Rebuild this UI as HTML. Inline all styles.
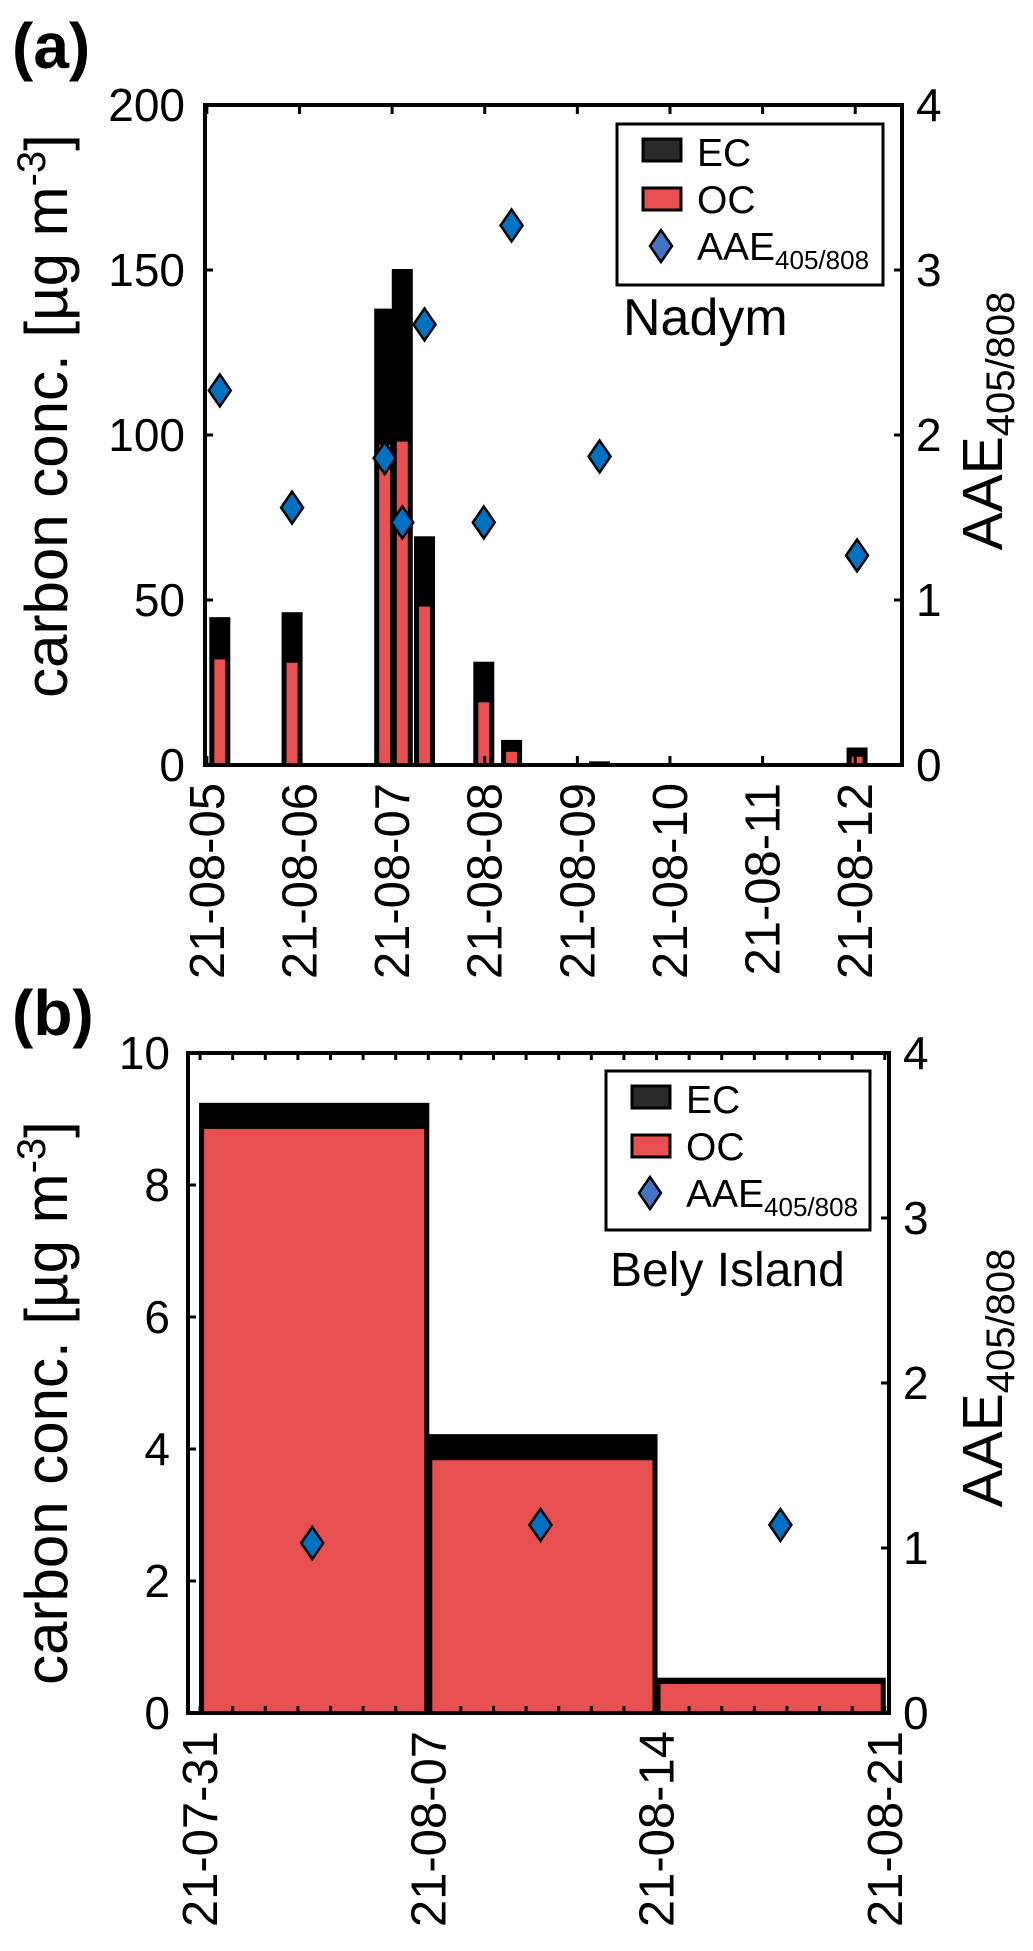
<!DOCTYPE html>
<html><head><meta charset="utf-8"><style>
html,body{margin:0;padding:0;background:#fff;}
svg{display:block;font-family:"Liberation Sans",Arial,sans-serif;}
</style></head><body>
<svg id="fig" width="1033" height="1951" viewBox="0 0 1033 1951" xmlns="http://www.w3.org/2000/svg"></svg>
<script>
// ---------- Panel (a) data: Nadym ----------
const dayLabelsA = ["21-08-05","21-08-06","21-08-07","21-08-08","21-08-09","21-08-10","21-08-11","21-08-12"];
const sampleDayA = [0.14, 0.92, 1.92, 2.11, 2.35, 2.99, 3.29, 4.24, 7.02];   // days after 21-08-05
const ocA = [32, 31, 97, 98, 48, 19, 4, 0.3, 2.5];
const ecA = [12.5, 15, 41, 52, 21, 12, 3.3, 0.5, 2.5];
const aaeA = [2.27, 1.56, 1.86, 1.47, 2.67, 1.47, 3.27, 1.87, 1.27];
const leftTicksA = [0, 50, 100, 150, 200];
const rightTicks = [0, 1, 2, 3, 4];

// ---------- Panel (b) data: Bely Island ----------
const dayLabelsB = ["21-07-31","21-08-07","21-08-14","21-08-21"];
const binStartB = [0, 7, 14];      // days after 21-07-31
const binEndB = [7, 14, 21];
const ocB = [8.85, 3.83, 0.44];
const ecB = [0.38, 0.38, 0.08];
const aaeDayB = [3.44, 10.44, 17.8];
const aaeB = [1.03, 1.14, 1.14];
const leftTicksB = [0, 2, 4, 6, 8, 10];

const NS = "http://www.w3.org/2000/svg";
const svg = document.getElementById("fig");
function mk(tag, attrs, parent) {
  const e = document.createElementNS(NS, tag);
  for (const k in attrs) e.setAttribute(k, attrs[k]);
  (parent || svg).appendChild(e);
  return e;
}
const RED = "#E84F50", BLUE = "#0070C0";

function diamond(cx, cy, fill, parent) {
  return mk("polygon", {points: `${cx},${cy-16} ${cx+11},${cy} ${cx},${cy+16} ${cx-11},${cy}`, fill: fill, stroke: "#000", "stroke-width": 2.5}, parent);
}

function panel(cfg) {
  const g = mk("g", {});
  
  
  const {L, R, T, B} = cfg;
  const x = d => L + (d - cfg.d0) / (cfg.d1 - cfg.d0) * (R - L);
  const yl = v => B - v / cfg.ymax * (B - T);
  const yr = v => B - v / 4 * (B - T);

  // bars
  const bars = mk("g", {}, g);
  
  
  cfg.drawBars(bars, x, yl);

  // diamonds
  const pts = mk("g", {}, g);
  
  
  cfg.aaeDays.forEach((d, i) => {
    const p = diamond(x(d), yr(cfg.aaeVals[i]), BLUE, pts);
    
    
  });

  // frame
  const fr = mk("rect", {x: L, y: T, width: R - L, height: B - T, fill: "none", stroke: "#000", "stroke-width": 4}, g);
  
  

  // left ticks
  cfg.leftTicks.forEach(v => {
    mk("line", {x1: L, x2: L + 8, y1: yl(v), y2: yl(v), stroke: "#000", "stroke-width": 3}, g);
    const t = mk("text", {x: cfg.leftLabelX, y: yl(v) + 16, "text-anchor": "end", "font-size": 46}, g);
    t.textContent = v;
    
    
  });
  // right ticks
  rightTicks.forEach(v => {
    mk("line", {x1: R - 8, x2: R, y1: yr(v), y2: yr(v), stroke: "#000", "stroke-width": 3}, g);
    const t = mk("text", {x: R + 14, y: yr(v) + 16, "font-size": 46}, g);
    t.textContent = v;
    
    
  });
  // minor x ticks
  for (let d = Math.ceil(cfg.d0); d <= cfg.d1; d += cfg.minorStep) {
    mk("line", {x1: x(d), x2: x(d), y1: B, y2: B - cfg.tickLen, stroke: "#000", "stroke-width": 3}, g);
    mk("line", {x1: x(d), x2: x(d), y1: T, y2: T + cfg.tickLen, stroke: "#000", "stroke-width": 3}, g);
  }
  // x labels
  cfg.xLabels.forEach((lab, i) => {
    const xx = x(i * cfg.labelStep) + 17;
    const t = mk("text", {x: xx, y: B + 18, "text-anchor": "end", "font-size": 49, transform: `rotate(-90 ${xx} ${B + 18})`}, g);
    t.textContent = lab;
    
    
  });

  // y title left
  const yt = mk("text", {x: 67, y: cfg.titleY, "text-anchor": "middle", "font-size": 60, transform: `rotate(-90 67 ${cfg.titleY})`}, g);
  
  
  yt.appendChild(document.createTextNode("carbon conc. [µg m"));
  const sup = mk("tspan", {"font-size": 40, dy: -22}, yt); sup.textContent = "-3";
  const cl = mk("tspan", {dy: 22}, yt); cl.textContent = "]";

  // y title right
  const rt = mk("text", {x: 1002, y: cfg.rtitleY, "text-anchor": "middle", "font-size": 57, transform: `rotate(-90 1002 ${cfg.rtitleY})`}, g);
  
  
  rt.appendChild(document.createTextNode("AAE"));
  const sb = mk("tspan", {"font-size": 40, dy: 12}, rt); sb.textContent = "405/808";

  // legend
  const lg = mk("g", {}, g);
  
  
  const Lx = cfg.leg.x, Ly = cfg.leg.y;
  mk("rect", {x: Lx, y: Ly, width: cfg.leg.w, height: cfg.leg.h, fill: "#fff", stroke: "#000", "stroke-width": 3}, lg);
  const e1 = mk("rect", {x: Lx + 26, y: Ly + 15, width: 38, height: 22, fill: "#2a2a2a", stroke: "#000", "stroke-width": 3}, lg);
   
  const e2 = mk("rect", {x: Lx + 26, y: Ly + 64, width: 38, height: 22, fill: RED, stroke: "#000", "stroke-width": 3}, lg);
   
  const e3 = diamond(Lx + 44, Ly + 122, "#4472C4", lg);
   
  const t1 = mk("text", {x: Lx + 80, y: Ly + 42, "font-size": 39}, lg); t1.textContent = "EC";
   
  const t2 = mk("text", {x: Lx + 80, y: Ly + 89, "font-size": 39}, lg); t2.textContent = "OC";
   
  const t3 = mk("text", {x: Lx + 80, y: Ly + 136, "font-size": 39}, lg);
   
  t3.appendChild(document.createTextNode("AAE"));
  const s3 = mk("tspan", {"font-size": 26, dy: 9}, t3); s3.textContent = "405/808";

  // site label
  const st = mk("text", {x: cfg.site.x, y: cfg.site.y, "font-size": cfg.site.fs}, g);
  st.textContent = cfg.site.text;
  
  

  // panel letter
  const pl = mk("text", {x: cfg.letter.x, y: cfg.letter.y, "font-size": 64, "font-weight": "bold"}, g);
  pl.textContent = cfg.letter.text;
  
  
}

// Panel (a)
panel({
  name: "panel-a-nadym", L: 205, R: 902, T: 105, B: 765, d0: -0.02, d1: 7.505, ymax: 200,
  leftTicks: leftTicksA, leftLabelX: 185, minorStep: 1, tickLen: 9, labelStep: 1,
  xLabels: dayLabelsA, aaeDays: sampleDayA, aaeVals: aaeA, titleY: 416, rtitleY: 421,
  leg: {x: 617, y: 124, w: 266, h: 161}, site: {x: 623, y: 335, fs: 52, text: "Nadym"},
  letter: {x: 12, y: 68, text: "(a)"},
  drawBars: (g, x, y) => {
    const w = 19;
    sampleDayA.forEach((d, i) => {
      const cx = x(d);
      const tot = mk("rect", {x: cx - w / 2, y: y(ocA[i] + ecA[i]), width: w, height: y(0) - y(ocA[i] + ecA[i]), fill: "#000", stroke: "#000", "stroke-width": 2}, g);
      
      
      const oc = mk("rect", {x: cx - w / 2 + 4, y: y(ocA[i]), width: w - 8, height: Math.max(0, y(0) - y(ocA[i]) - 2), fill: RED}, g);
      
      
    });
  }
});

// Panel (b)
panel({
  name: "panel-b-bely-island", L: 188, R: 889, T: 1053, B: 1713, d0: -0.37, d1: 21.13, ymax: 10,
  leftTicks: leftTicksB, leftLabelX: 170, minorStep: 1, tickLen: 7, labelStep: 7,
  xLabels: dayLabelsB, aaeDays: aaeDayB, aaeVals: aaeB, titleY: 1403, rtitleY: 1378,
  leg: {x: 606, y: 1071, w: 264, h: 159}, site: {x: 610, y: 1286, fs: 48, text: "Bely Island"},
  letter: {x: 12, y: 1035, text: "(b)"},
  drawBars: (g, x, y) => {
    binStartB.forEach((s, i) => {
      const x0 = x(s), x1 = x(binEndB[i]);
      const tot = mk("rect", {x: x0, y: y(ocB[i] + ecB[i]), width: x1 - x0, height: y(0) - y(ocB[i] + ecB[i]), fill: "#000", stroke: "#000", "stroke-width": 2}, g);
      
      
      const oc = mk("rect", {x: x0 + 4, y: y(ocB[i]), width: x1 - x0 - 8, height: y(0) - y(ocB[i]) - 2, fill: RED}, g);
      
      
    });
  }
});
</script>
</body></html>
